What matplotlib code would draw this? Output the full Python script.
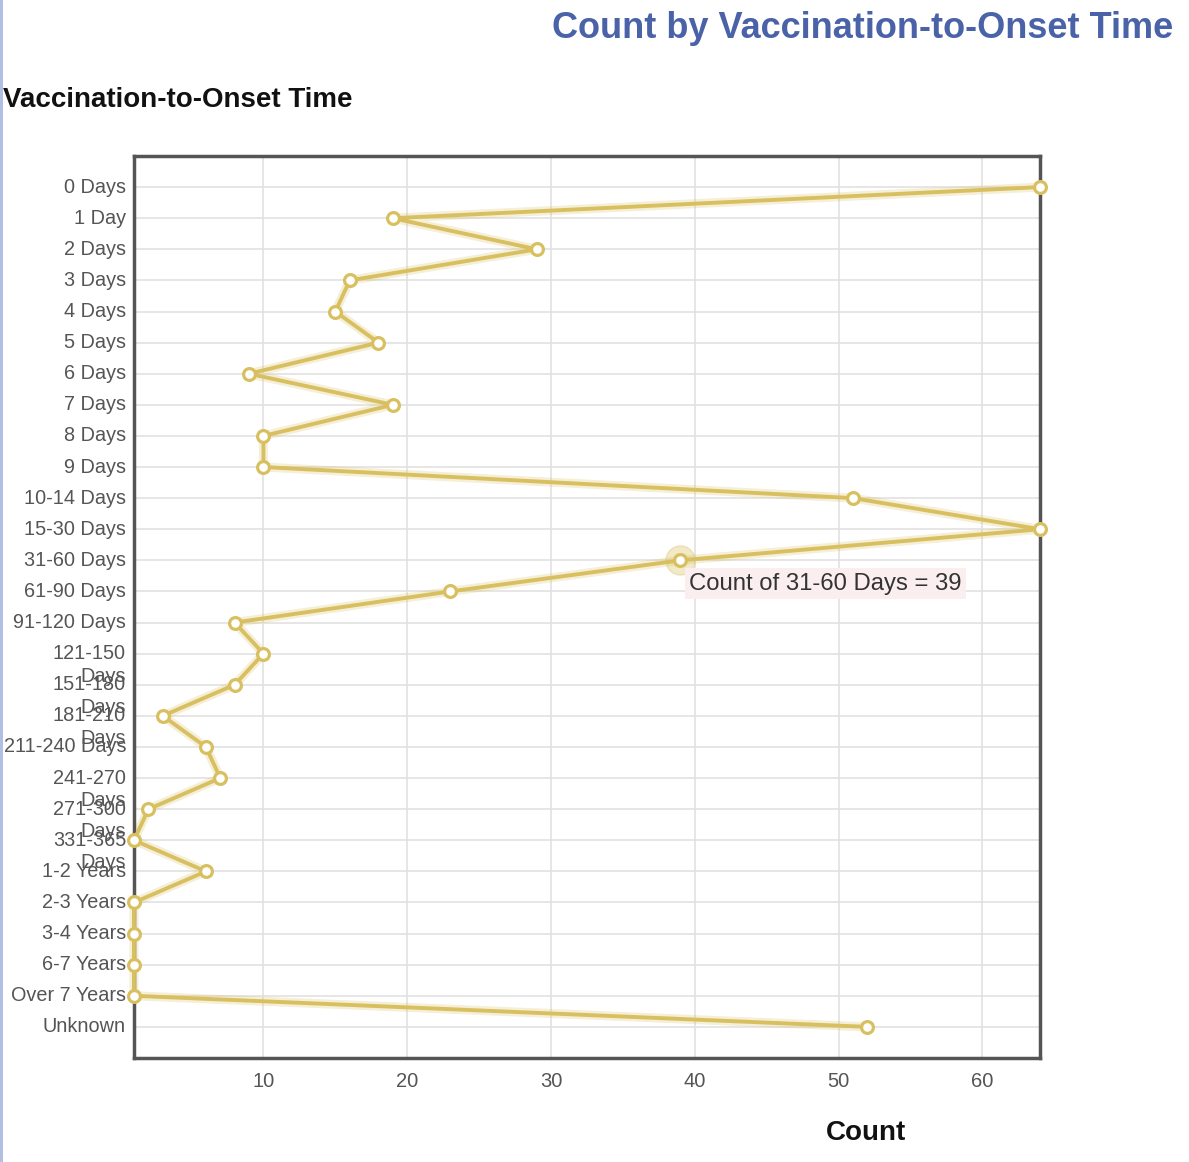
import matplotlib
matplotlib.use("Agg")
import matplotlib.pyplot as plt
import matplotlib.transforms as mtransforms

plt.rcParams["font.family"] = ["Liberation Sans", "DejaVu Sans"]

# ---- data ----
categories = ["0 Days", "1 Day", "2 Days", "3 Days", "4 Days", "5 Days", "6 Days",
              "7 Days", "8 Days", "9 Days", "10-14 Days", "15-30 Days", "31-60 Days",
              "61-90 Days", "91-120 Days", "121-150 Days", "151-180 Days", "181-210 Days",
              "211-240 Days", "241-270 Days", "271-300 Days", "331-365 Days", "1-2 Years",
              "2-3 Years", "3-4 Years", "6-7 Years", "Over 7 Years", "Unknown"]
counts = [64, 19, 29, 16, 15, 18, 9, 19, 10, 10, 51, 64, 39, 23, 8, 10, 8, 3,
          6, 7, 2, 1, 6, 1, 1, 1, 1, 52]
# labels that the original renderer wrapped onto two lines
wrapped = ["121-150 Days", "151-180 Days", "181-210 Days", "241-270 Days",
           "271-300 Days", "331-365 Days"]
x_ticks = [10, 20, 30, 40, 50, 60]
hover_cat = "31-60 Days"

W, H = 1189, 1162
fig = plt.figure(figsize=(W / 100, H / 100), dpi=100)
ax = fig.add_axes([134 / W, 1 - 1058 / H, (1040 - 134) / W, (1058 - 156) / H])

gold = "#d8c060"
ypos = list(range(len(categories)))

# glow under the line
ax.plot(counts, ypos, color=gold, lw=6.5, alpha=0.25, solid_capstyle="round", zorder=2, clip_on=False)
ax.plot(counts, ypos, color=gold, lw=2.8, zorder=3, clip_on=False,
        marker="o", ms=8.5, mfc="white", mec=gold, mew=2.3)

hi = categories.index(hover_cat)
ax.plot([counts[hi]], [hi], "o", ms=21, color=gold, alpha=0.35, zorder=2, clip_on=False)
ax.text(counts[hi] + 0.6, hi + 0.75, f"Count of {hover_cat} = {counts[hi]}",
        fontsize=17.2, color="#333333", va="center", ha="left", zorder=6,
        bbox=dict(boxstyle="square,pad=0.18", fc="#fbeeee", ec="none"))

ax.set_xlim(min(counts), max(counts))
ax.set_ylim(len(categories), -1)
ax.set_xticks(x_ticks)
ax.set_xticklabels([str(t) for t in x_ticks])
ax.set_yticks(ypos)
ax.set_yticklabels([])
ax.tick_params(axis="x", length=0, pad=10, labelsize=14.5, labelcolor="#555555")
ax.tick_params(axis="y", length=0)
ax.grid(True, color="#e2e2e2", lw=1.2)
ax.set_axisbelow(True)
for s in ax.spines.values():
    s.set_color("#555555")
    s.set_linewidth(2.5)

# category labels, drawn by hand to mimic the wrapped two-line labels
trans = mtransforms.blended_transform_factory(ax.transAxes, ax.transData)
off = mtransforms.ScaledTranslation(-8 / 100, 0, fig.dpi_scale_trans)
for i, c in enumerate(categories):
    if c in wrapped:
        first, second = c.split(" ")
        ax.text(0, i, first, transform=trans + off, ha="right", va="center",
                fontsize=14.3, color="#555555")
        ax.text(0, i + 0.72, second, transform=trans + off, ha="right", va="center",
                fontsize=14.3, color="#555555")
    else:
        ax.text(0, i, c, transform=trans + off, ha="right", va="center",
                fontsize=14.3, color="#555555")

fig.text(1173 / W, 1 - 28 / H, "Count by Vaccination-to-Onset Time", ha="right", va="center",
         fontsize=26, fontweight="bold", color="#4a62a8")
fig.text(3 / W, 1 - 100 / H, "Vaccination-to-Onset Time", ha="left", va="center",
         fontsize=20, fontweight="bold", color="#111111")
fig.text(866 / W, 1 - 1133 / H, "Count", ha="center", va="center",
         fontsize=20, fontweight="bold", color="#111111")

# thin blue bar on the left edge of the page
fig.add_artist(plt.Rectangle((0, 0), 3 / W, 1, transform=fig.transFigure,
                             color="#b4bee2", lw=0))

fig.savefig("out.png", dpi=100)
